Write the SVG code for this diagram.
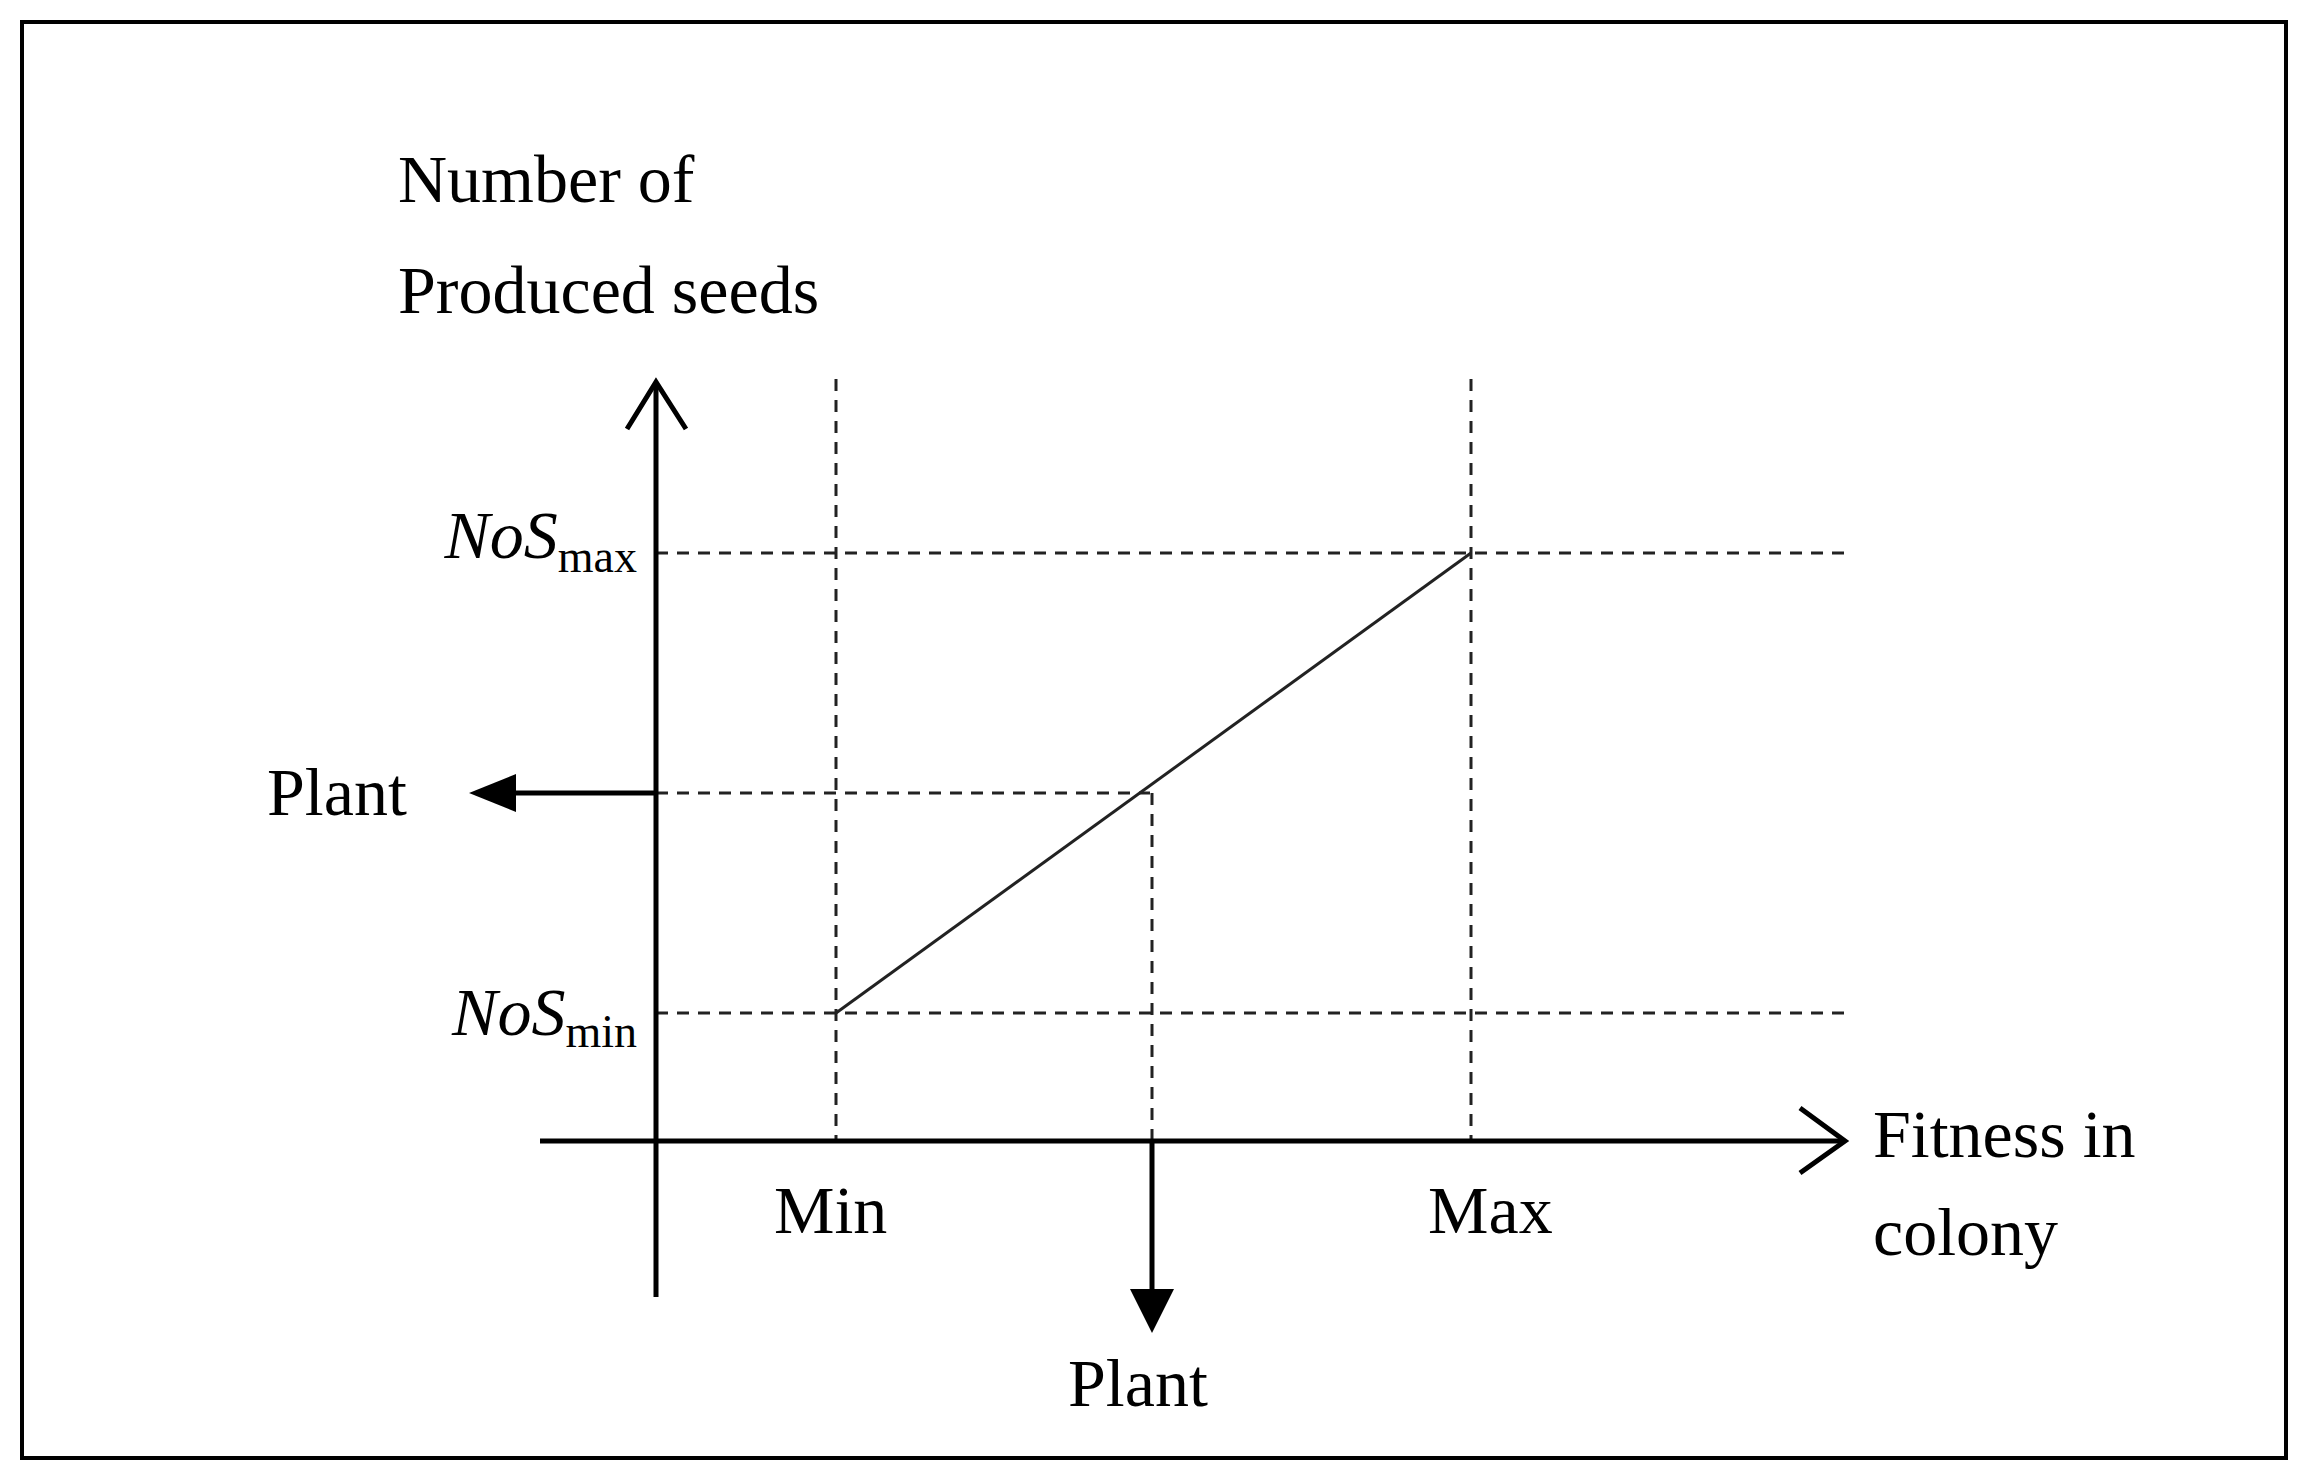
<svg xmlns="http://www.w3.org/2000/svg" width="2302" height="1483" viewBox="0 0 2302 1483">
<style>
.t{font-family:"Liberation Serif",serif;font-size:68px;fill:#000}
.ax{stroke:#000;stroke-width:5;fill:none}
.d{stroke:#222;stroke-width:3;stroke-dasharray:12 9;fill:none}
</style>
<rect x="0" y="0" width="2302" height="1483" fill="#fff"/>
<rect x="22" y="22" width="2264" height="1436" fill="none" stroke="#000" stroke-width="4"/>
<g id="connectors">
<line class="d" x1="656" y1="553" x2="1847" y2="553"/>
<line class="d" x1="656" y1="1013" x2="1847" y2="1013"/>
<line class="d" x1="656" y1="793" x2="1150" y2="793" stroke="#555"/>
<line class="d" x1="836" y1="379" x2="836" y2="1141"/>
<line class="d" x1="1471" y1="379" x2="1471" y2="1141" stroke="#555"/>
<line class="d" x1="1152" y1="793" x2="1152" y2="1141" stroke="#555"/>
<line x1="836" y1="1013" x2="1471" y2="553" stroke="#222" stroke-width="3"/>
<line class="ax" x1="656" y1="382" x2="656" y2="1297"/>
<polyline class="ax" points="627,429 656,382 686,429"/>
<line class="ax" x1="540" y1="1141" x2="1844" y2="1141"/>
<polyline class="ax" points="1800,1108 1845,1141 1800,1173"/>
<line class="ax" x1="1152" y1="1141" x2="1152" y2="1295"/>
<polygon points="1130,1289 1174,1289 1152,1333" fill="#000"/>
<line class="ax" x1="656" y1="793" x2="510" y2="793"/>
<polygon points="516,774 516,812 469,793" fill="#000"/>
</g>
<g id="labels">
<text class="t" x="398" y="202">Number of</text>
<text class="t" x="398" y="313">Produced seeds</text>
<text class="t" x="1873" y="1157">Fitness in</text>
<text class="t" x="1873" y="1255">colony</text>
<text class="t" x="774" y="1233">Min</text>
<text class="t" x="1428" y="1233">Max</text>
<text class="t" x="1068" y="1406">Plant</text>
<text class="t" x="267" y="815">Plant</text>
<text class="t" x="637" y="558" text-anchor="end"><tspan font-style="italic">NoS</tspan><tspan font-size="46" dy="14">max</tspan></text>
<text class="t" x="637" y="1035" text-anchor="end"><tspan font-style="italic">NoS</tspan><tspan font-size="46" dy="12">min</tspan></text>
</g>
</svg>
